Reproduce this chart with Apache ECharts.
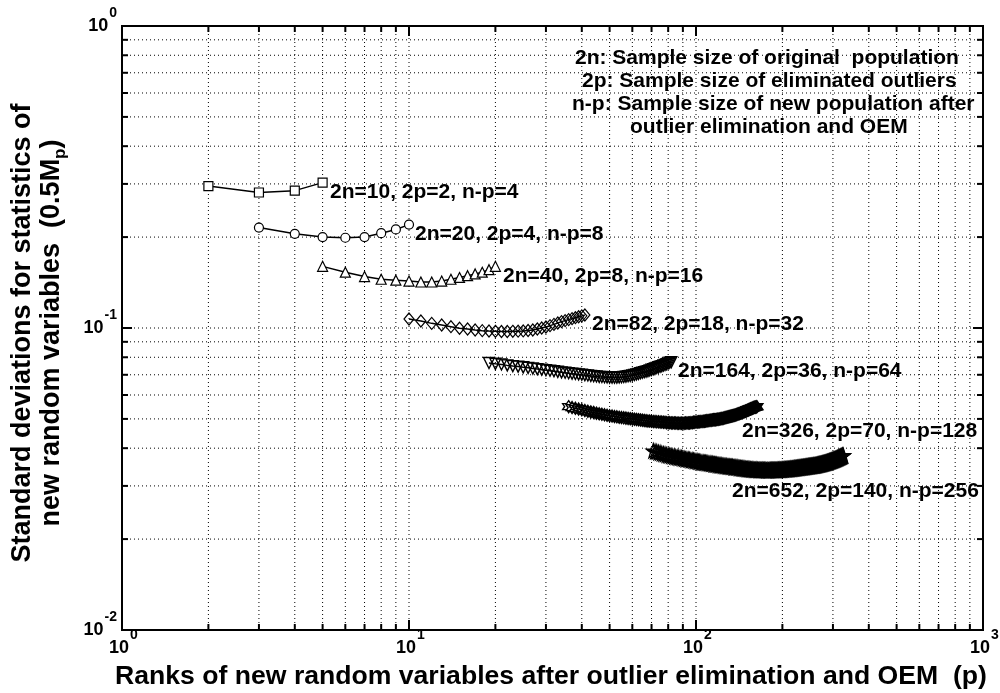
<!DOCTYPE html>
<html>
<head>
<meta charset="utf-8">
<script src="https://cdn.jsdelivr.net/npm/echarts@6/dist/echarts.min.js"></script>
<style>
  html, body { margin: 0; padding: 0; background: #fff; }
  #chart { width: 1000px; height: 693px; }
</style>
</head>
<body>
<div id="chart"></div>
<script>
// Standard deviations of 0.5*M_p statistics versus rank p, one curve per original sample size.

// ranks p run from the first kept rank up to n for each population
const rankRanges = { n10: [2, 5], n20: [3, 10], n40: [5, 20], n82: [10, 41], n164: [19, 82], n326: [36, 163], n652: [71, 326] };

const sd10 = [0.295, 0.281, 0.285, 0.303];
const sd20 = [0.215, 0.205, 0.200, 0.199, 0.200, 0.206, 0.212, 0.220];
const sd40 = [0.160, 0.153, 0.148, 0.145, 0.144, 0.143, 0.142, 0.142, 0.143, 0.145, 0.147, 0.149, 0.151, 0.153, 0.156, 0.160];
const sd82 = [0.1071, 0.1055, 0.1036, 0.1023, 0.1010, 0.0998, 0.0992, 0.0985, 0.0980, 0.0977,
              0.0975, 0.0974, 0.0974, 0.0975, 0.0976, 0.0978, 0.0981, 0.0985, 0.0992, 0.1000,
              0.1008, 0.1018, 0.1028, 0.1039, 0.1050, 0.1058, 0.1066, 0.1074, 0.1082, 0.1090,
              0.1097, 0.1104];
const sd164 = [0.0766, 0.0761, 0.0757, 0.0752, 0.0748, 0.0745, 0.0741, 0.0738, 0.0734, 0.0731,
               0.0728, 0.0725, 0.0722, 0.0719, 0.0716, 0.0713, 0.0711, 0.0708, 0.0706, 0.0704,
               0.0702, 0.0700, 0.0698, 0.0696, 0.0694, 0.0692, 0.0691, 0.0689, 0.0688, 0.0687,
               0.0686, 0.0685, 0.0685, 0.0685, 0.0685, 0.0686, 0.0687, 0.0688, 0.0690, 0.0692,
               0.0694, 0.0697, 0.0699, 0.0702, 0.0705, 0.0708, 0.0711, 0.0714, 0.0717, 0.0720,
               0.0723, 0.0727, 0.0730, 0.0734, 0.0737, 0.0741, 0.0744, 0.0748, 0.0751, 0.0755,
               0.0759, 0.0763, 0.0767, 0.0771];
const sd326 = [0.0549, 0.0545, 0.0542, 0.0539, 0.0536, 0.0533, 0.0530, 0.0527, 0.0525, 0.0522,
               0.0520, 0.0518, 0.0516, 0.0514, 0.0512, 0.0511, 0.0509, 0.0508, 0.0506, 0.0505,
               0.0504, 0.0503, 0.0502, 0.0501, 0.0500, 0.0499, 0.0498, 0.0497, 0.0496, 0.0495,
               0.0494, 0.0493, 0.0492, 0.0492, 0.0491, 0.0490, 0.0490, 0.0489, 0.0489, 0.0488,
               0.0488, 0.0487, 0.0487, 0.0486, 0.0486, 0.0486, 0.0485, 0.0485, 0.0485, 0.0485,
               0.0484, 0.0484, 0.0484, 0.0484, 0.0484, 0.0484, 0.0485, 0.0485, 0.0485, 0.0485,
               0.0486, 0.0486, 0.0487, 0.0487, 0.0488, 0.0488, 0.0489, 0.0489, 0.0490, 0.0490,
               0.0491, 0.0491, 0.0492, 0.0493, 0.0493, 0.0494, 0.0495, 0.0495, 0.0496, 0.0497,
               0.0497, 0.0497, 0.0498, 0.0499, 0.0499, 0.0500, 0.0501, 0.0502, 0.0502, 0.0503,
               0.0504, 0.0505, 0.0506, 0.0507, 0.0508, 0.0509, 0.0510, 0.0511, 0.0512, 0.0513,
               0.0514, 0.0515, 0.0516, 0.0518, 0.0519, 0.0520, 0.0521, 0.0523, 0.0524, 0.0525,
               0.0527, 0.0528, 0.0529, 0.0531, 0.0532, 0.0534, 0.0535, 0.0537, 0.0538, 0.0540,
               0.0541, 0.0542, 0.0544, 0.0545, 0.0546, 0.0547, 0.0548, 0.0549];
const sd652 = [0.0392, 0.0390, 0.0389, 0.0387, 0.0386, 0.0384, 0.0383, 0.0382, 0.0380, 0.0379, 0.0378, 0.0377,
               0.0376, 0.0375, 0.0374, 0.0373, 0.0372, 0.0372, 0.0371, 0.0370, 0.0369, 0.0368, 0.0368, 0.0367, 0.0366,
               0.0365, 0.0365, 0.0364, 0.0363, 0.0363, 0.0362, 0.0361, 0.0361, 0.0360, 0.0359, 0.0359, 0.0358, 0.0358,
               0.0357, 0.0357, 0.0356, 0.0356, 0.0355, 0.0355, 0.0354, 0.0354, 0.0353, 0.0353, 0.0352, 0.0352, 0.0351,
               0.0351, 0.0351, 0.0350, 0.0350, 0.0349, 0.0349, 0.0349, 0.0348, 0.0348, 0.0348, 0.0347, 0.0347, 0.0347,
               0.0346, 0.0346, 0.0346, 0.0345, 0.0345, 0.0345, 0.0344,
               0.03440, 0.03437, 0.03434, 0.03431, 0.03428, 0.03425, 0.03422, 0.03419, 0.03416, 0.03414,
               0.03411, 0.03409, 0.03407, 0.03405, 0.03403, 0.03401, 0.03399, 0.03397, 0.03396, 0.03394,
               0.03393, 0.03392, 0.03391, 0.03390, 0.03389, 0.03388, 0.03387, 0.03387, 0.03386, 0.03386,
               0.03385, 0.03385, 0.03385, 0.03384, 0.03384, 0.03384, 0.03384, 0.03384, 0.03384, 0.03384,
               0.03385, 0.03385, 0.03385, 0.03386, 0.03386, 0.03387, 0.03387, 0.03388, 0.03389, 0.03389,
               0.03390, 0.03391, 0.03392, 0.03393, 0.03394, 0.03395, 0.03396, 0.03397, 0.03398, 0.03400,
               0.03401, 0.03402, 0.03404, 0.03405, 0.03406, 0.03408, 0.03409,
               0.03411, 0.03413, 0.03414, 0.03416, 0.03418, 0.03420, 0.03421, 0.03423, 0.03425, 0.03427,
               0.03429, 0.03431, 0.03433, 0.03435, 0.03437, 0.03439, 0.03441, 0.03443, 0.03445, 0.03447,
               0.03449, 0.03451, 0.03453, 0.03455, 0.03457, 0.03459, 0.03461, 0.03463, 0.03465, 0.03467,
               0.03469, 0.03471, 0.03473, 0.03475, 0.03477, 0.03479, 0.03481, 0.03483, 0.03485, 0.03487,
               0.03489, 0.03491, 0.03493, 0.03495, 0.03497, 0.03499, 0.03501, 0.03503, 0.03505, 0.03507,
               0.03509, 0.03511, 0.03513,
               0.03515, 0.03518, 0.03521, 0.03524, 0.03527, 0.03530, 0.03533, 0.03536, 0.03539, 0.03542,
               0.03545, 0.03548, 0.03552, 0.03555, 0.03558, 0.03562, 0.03565, 0.03569, 0.03572, 0.03576,
               0.03579, 0.03583, 0.03587, 0.03590, 0.03594, 0.03598, 0.03602, 0.03606, 0.03610, 0.03614,
               0.03618, 0.03622, 0.03626, 0.03630, 0.03635, 0.03639, 0.03643, 0.03648, 0.03652, 0.03657,
               0.03661, 0.03666, 0.03670, 0.03675, 0.03680, 0.03685, 0.03689, 0.03694, 0.03699, 0.03704,
               0.03709, 0.03714, 0.03720, 0.03725, 0.03730, 0.03735, 0.03741, 0.03746, 0.03752, 0.03757,
               0.03763, 0.03769, 0.03774, 0.03780, 0.03786];

const curveLabels = [
  '2n=10, 2p=2, n-p=4', '2n=20, 2p=4, n-p=8', '2n=40, 2p=8, n-p=16', '2n=82, 2p=18, n-p=32',
  '2n=164, 2p=36, n-p=64', '2n=326, 2p=70, n-p=128', '2n=652, 2p=140, n-p=256'
];
const noteLines = [
  '2n: Sample size of original  population',
  '2p: Sample size of eliminated outliers',
  'n-p: Sample size of new population after',
  'outlier elimination and OEM'
];
const xDecades = [1, 10, 100, 1000];
const yDecades = [0.01, 0.1, 1];
const xGridValues = [2, 3, 4, 5, 6, 7, 8, 9, 10, 20, 30, 40, 50, 60, 70, 80, 90, 100, 200, 300, 400, 500, 600, 700, 800, 900];
const yGridValues = [0.02, 0.03, 0.04, 0.05, 0.06, 0.07, 0.08, 0.09, 0.1, 0.2, 0.3, 0.4, 0.5, 0.6, 0.7, 0.8, 0.9];
const xMajors = [10, 100];
const yMajors = [0.1];

const FONT = '"Liberation Sans", Arial, Helvetica, sans-serif';
const bold = function (px) { return 'bold ' + px + 'px ' + FONT; };

function pairUp(range, values) {
  const out = [];
  for (let i = 0; i < values.length; i++) out.push([range[0] + i, values[i]]);
  return out;
}

function starPath(points, inner) {
  const pts = [];
  for (let i = 0; i < points * 2; i++) {
    const r = i % 2 === 0 ? 1 : inner;
    const a = -Math.PI / 2 + i * Math.PI / points;
    pts.push((50 + 50 * r * Math.cos(a)).toFixed(2) + ' ' + (50 + 50 * r * Math.sin(a)).toFixed(2));
  }
  return 'path://M' + pts.join(' L') + ' Z';
}
const hexagram = starPath(6, 0.58);
const pentagram = starPath(5, 0.4);

function curve(name, range, values, symbol, size, fill, border, rotate) {
  return {
    name: name,
    type: 'line',
    data: pairUp(range, values),
    symbol: symbol,
    symbolSize: size,
    symbolRotate: rotate || 0,
    showSymbol: true,
    lineStyle: { color: '#000', width: 1.5 },
    itemStyle: { color: fill, borderColor: '#000', borderWidth: border },
    z: 5,
    silent: true
  };
}

function isMajor(v, majors) {
  return majors.some(function (m) { return Math.abs(v - m) / m < 1e-6; });
}

// decade label pieces: base "10" and its raised exponent
const BASE_PX = 18, EXP_PX = 14;
function expText(v) { return String(Math.round(Math.log10(v))); }
function expWidth(s) {
  let w = 0;
  for (const ch of s) w += (ch === '-' ? 0.333 : 0.556) * EXP_PX;
  return w;
}
function labelText(text, px, x, y, align, vAlign) {
  return {
    type: 'text', x: x, y: y,
    style: {
      text: text, fill: '#000',
      fontSize: px, fontWeight: 'bold', fontFamily: FONT, font: bold(px),
      align: align, verticalAlign: vAlign, textAlign: align, textVerticalAlign: vAlign
    }
  };
}

const chart = echarts.init(document.getElementById('chart'), null, { renderer: 'canvas' });

const option = {
  backgroundColor: '#fff',
  animation: false,
  grid: { left: 122, right: 17, top: 26, bottom: 63, show: true, borderColor: '#000', borderWidth: 2, backgroundColor: 'transparent' },
  xAxis: {
    type: 'log', logBase: 10, min: 1, max: 1000,
    axisLine: { show: false }, axisTick: { show: false }, splitLine: { show: false }, axisLabel: { show: false }
  },
  yAxis: {
    type: 'log', logBase: 10, min: 0.01, max: 1,
    axisLine: { show: false }, axisTick: { show: false }, splitLine: { show: false }, axisLabel: { show: false }
  },
  series: [
    {
      // vertical dotted grid lines with inward tick marks at top and bottom
      type: 'custom', silent: true, z: 1, clip: false,
      data: xGridValues.map(function (v) { return [v, 0.1]; }),
      renderItem: function (params, api) {
        const v = api.value(0);
        const top = api.coord([v, 1]);
        const bot = api.coord([v, 0.01]);
        const len = isMajor(v, xMajors) ? 10 : 6;
        return { type: 'group', children: [
          { type: 'line', shape: { x1: top[0], y1: top[1], x2: bot[0], y2: bot[1] }, style: { stroke: '#000', lineWidth: 1, lineDash: [1, 3] } },
          { type: 'line', shape: { x1: bot[0], y1: bot[1], x2: bot[0], y2: bot[1] - len }, style: { stroke: '#000', lineWidth: 2 } },
          { type: 'line', shape: { x1: top[0], y1: top[1], x2: top[0], y2: top[1] + len }, style: { stroke: '#000', lineWidth: 2 } }
        ] };
      }
    },
    {
      // horizontal dotted grid lines with inward tick marks at left and right
      type: 'custom', silent: true, z: 1, clip: false,
      data: yGridValues.map(function (v) { return [10, v]; }),
      renderItem: function (params, api) {
        const v = api.value(1);
        const l = api.coord([1, v]);
        const r = api.coord([1000, v]);
        const len = isMajor(v, yMajors) ? 10 : 6;
        return { type: 'group', children: [
          { type: 'line', shape: { x1: l[0], y1: l[1], x2: r[0], y2: r[1] }, style: { stroke: '#000', lineWidth: 1, lineDash: [1, 3] } },
          { type: 'line', shape: { x1: l[0], y1: l[1], x2: l[0] + len, y2: l[1] }, style: { stroke: '#000', lineWidth: 2 } },
          { type: 'line', shape: { x1: r[0], y1: r[1], x2: r[0] - len, y2: r[1] }, style: { stroke: '#000', lineWidth: 2 } }
        ] };
      }
    },
    {
      // x decade labels below the axis
      type: 'custom', silent: true, z: 3, clip: false,
      data: xDecades.map(function (v) { return [v, 0.01]; }),
      renderItem: function (params, api) {
        const v = api.value(0);
        const p = api.coord([v, 0.01]);
        const baseMid = p[1] + 18;
        const baseRight = p[0] + 7;
        return { type: 'group', children: [
          labelText('10', BASE_PX, baseRight, baseMid, 'right', 'middle'),
          labelText(expText(v), EXP_PX, baseRight + 1, baseMid - 6, 'left', 'bottom')
        ] };
      }
    },
    {
      // y decade labels left of the axis
      type: 'custom', silent: true, z: 3, clip: false,
      data: yDecades.map(function (v) { return [1, v]; }),
      renderItem: function (params, api) {
        const v = api.value(1);
        const p = api.coord([1, v]);
        const e = expText(v);
        const expRight = p[0] - 5;
        const baseRight = expRight - expWidth(e) - 1;
        return { type: 'group', children: [
          labelText('10', BASE_PX, baseRight, p[1], 'right', 'middle'),
          labelText(e, EXP_PX, expRight, p[1] - 6, 'right', 'bottom')
        ] };
      }
    },
    curve(curveLabels[0], rankRanges.n10, sd10, 'rect', 9, '#fff', 1.2),
    curve(curveLabels[1], rankRanges.n20, sd20, 'circle', 9, '#fff', 1.2),
    curve(curveLabels[2], rankRanges.n40, sd40, 'triangle', 10, '#fff', 1.2),
    curve(curveLabels[3], rankRanges.n82, sd82, 'diamond', [10, 12], 'rgba(0,0,0,0)', 1.2),
    curve(curveLabels[4], rankRanges.n164, sd164, 'triangle', 11, 'rgba(0,0,0,0)', 1.4, 180),
    curve(curveLabels[5], rankRanges.n326, sd326, hexagram, 12, 'rgba(0,0,0,0)', 1.4),
    curve(curveLabels[6], rankRanges.n652, sd652, pentagram, 14, 'rgba(0,0,0,0)', 1.4)
  ],
  graphic: [
    { type: 'text', left: 330, top: 182, style: { text: curveLabels[0], font: bold(21), fill: '#000' } },
    { type: 'text', left: 415, top: 224, style: { text: curveLabels[1], font: bold(21), fill: '#000' } },
    { type: 'text', left: 503, top: 266, style: { text: curveLabels[2], font: bold(21), fill: '#000' } },
    { type: 'text', left: 592, top: 314, style: { text: curveLabels[3], font: bold(21), fill: '#000' } },
    { type: 'text', left: 678, top: 361, style: { text: curveLabels[4], font: bold(21), fill: '#000' } },
    { type: 'text', left: 742, top: 421, style: { text: curveLabels[5], font: bold(21), fill: '#000' } },
    { type: 'text', left: 732, top: 481, style: { text: curveLabels[6], font: bold(21), fill: '#000' } },
    { type: 'text', left: 575, top: 48, style: { text: noteLines[0], font: bold(21), fill: '#000' } },
    { type: 'text', left: 582, top: 71, style: { text: noteLines[1], font: bold(21), fill: '#000' } },
    { type: 'text', left: 572, top: 94, style: { text: noteLines[2], font: bold(21), fill: '#000' } },
    { type: 'text', left: 630, top: 117, style: { text: noteLines[3], font: bold(21), fill: '#000' } },
    {
      type: 'text', x: 551, y: 677,
      style: { text: 'Ranks of new random variables after outlier elimination and OEM  (p)', font: bold(26.6), fill: '#000', align: 'center', verticalAlign: 'middle' }
    },
    {
      type: 'text', x: 23, y: 333, rotation: Math.PI / 2,
      style: { text: 'Standard deviations for statistics of', font: bold(27), fill: '#000', align: 'center', verticalAlign: 'middle' }
    },
    {
      type: 'text', x: 52, y: 333, rotation: Math.PI / 2,
      style: {
        text: '{m|new random variables  (0.5M}{sub|p}{m|)}',
        align: 'center', verticalAlign: 'middle',
        rich: {
          m: { font: bold(27), fill: '#000', lineHeight: 34, verticalAlign: 'middle' },
          sub: { font: bold(17), fill: '#000', lineHeight: 17, verticalAlign: 'bottom' }
        }
      }
    }
  ]
};

chart.setOption(option);
</script>
</body>
</html>
